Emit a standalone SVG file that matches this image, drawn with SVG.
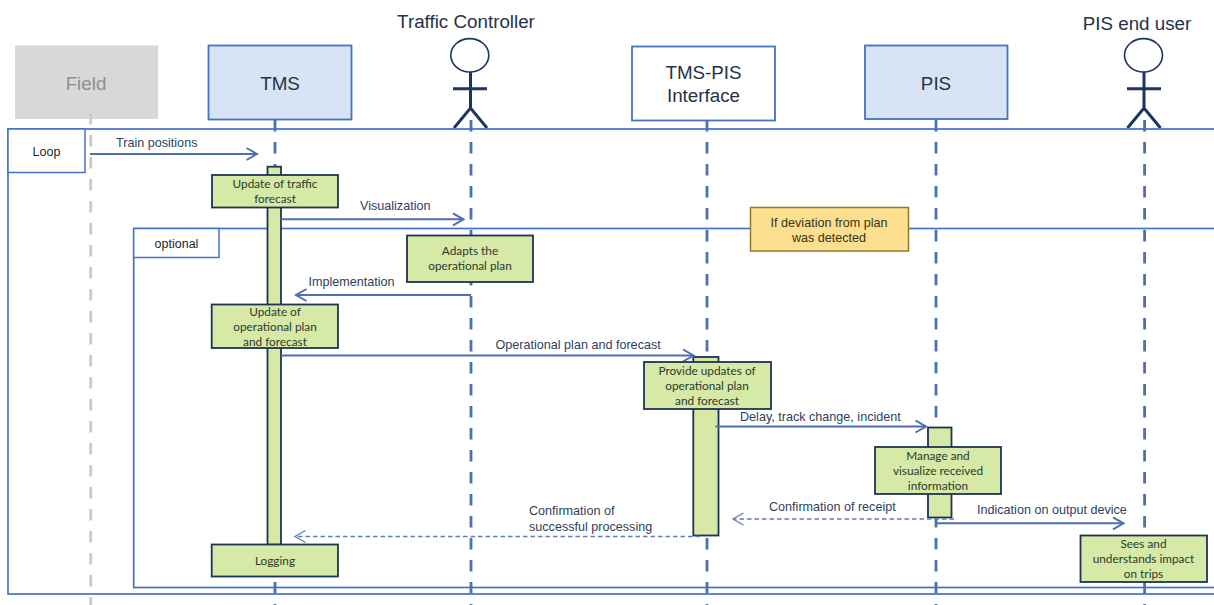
<svg xmlns="http://www.w3.org/2000/svg" width="1214" height="605" viewBox="0 0 1214 605">
<style>
text{font-family:"Liberation Sans",Arial,sans-serif;fill:#2b3a55;text-anchor:middle}
.title{font-size:18.800px;fill:#243247}
.msg{font-size:12.600px;text-anchor:start;fill:#2f3e5e}
.tab{font-size:12.500px;fill:#1f1f1f}
.act{font-size:11.800px;font-family:Lato,"Liberation Sans",sans-serif;fill:#2c3a2c}
.note{font-size:12.600px;fill:#3a3115}
.node{stroke:#4472c4;stroke-width:1.800}
.blue{fill:#d8e3f6}
.green{fill:#d6e9a6;stroke:#1f3354;stroke-width:1.800}
.frame{fill:none;stroke:#4472c4;stroke-width:1.700}
.tabbox{fill:#fff;stroke:#4472c4;stroke-width:1.500}
.life{fill:none;stroke:#4e6fb0;stroke-width:2.800;stroke-dasharray:11.500 10.500}
.actor{fill:none;stroke:#1d3561;stroke-width:3}
.msgline{fill:none;stroke:#4e6fb0;stroke-width:2;marker-end:url(#open)}
.ret{fill:none;stroke:#5f7dba;stroke-width:1.300;stroke-dasharray:4.500 3;marker-end:url(#openthin)}
</style>
<defs>
<marker id="open" markerUnits="userSpaceOnUse" markerWidth="14" markerHeight="16" refX="12" refY="7" orient="auto"><path d="M1.500 1 L12 7 L1.500 13" fill="none" stroke="#4e6fb0" stroke-width="2"/></marker>
<marker id="openthin" markerUnits="userSpaceOnUse" markerWidth="14" markerHeight="16" refX="12" refY="7" orient="auto"><path d="M1.500 1 L12 7 L1.500 13" fill="none" stroke="#5f7dba" stroke-width="1.300"/></marker>
</defs>

<g id="node-field"><rect x="15" y="45.500" width="143" height="73.500" fill="#d8d8d8"/><text class="title" x="86" y="90" style="fill:#8f8f8f">Field</text></g>
<g id="node-tms"><rect class="node blue" x="208.500" y="45.500" width="143" height="74"/><text class="title" x="280" y="90">TMS</text></g>
<g id="node-interface"><rect class="node" fill="#fff" x="632" y="46.500" width="143" height="74"/><text class="title" x="703.500" y="79">TMS-PIS</text><text class="title" x="703.500" y="101.500">Interface</text></g>
<g id="node-pis"><rect class="node blue" x="865" y="45.500" width="142.500" height="73.500"/><text class="title" x="936" y="90">PIS</text></g>
<g id="actor-controller"><text class="title" x="466" y="28">Traffic Controller</text><ellipse cx="469.800" cy="55.300" rx="19" ry="16.700" fill="#fff" stroke="#1d3561" stroke-width="1.600"/><path class="actor" d="M470.500 72V108M453 88.800H487M454 128L470.500 108L487 128"/></g>
<g id="actor-user"><text class="title" x="1137" y="29.500">PIS end user</text><ellipse cx="1143.500" cy="55.300" rx="19" ry="16.700" fill="#fff" stroke="#1d3561" stroke-width="1.600"/><path class="actor" d="M1144 72V108M1127 88.800H1161M1127.500 128L1144 108L1160.500 128"/></g>

<g id="lifelines">
<path class="life" style="stroke:#c9c9c9" d="M90.700 113V605"/>
<path class="life" d="M275 120V605"/>
<path class="life" d="M471 120V605"/>
<path class="life" d="M707 120V605"/>
<path class="life" d="M936 120V605"/>
<path class="life" d="M1144.600 120V605"/>
</g>

<g id="frames">
<rect class="frame" x="8" y="129" width="1230" height="465"/>
<rect class="frame" x="133.700" y="228.500" width="1100" height="359"/>
</g>
<g id="frame-loop"><rect class="tabbox" x="8" y="129" width="77" height="43.500"/><text class="tab" x="46.500" y="156">Loop</text></g>
<g id="frame-optional"><rect class="tabbox" x="133.700" y="228.500" width="85.300" height="29"/><text class="tab" x="176.500" y="247.500">optional</text></g>

<g id="activations">
<rect class="green" x="267.500" y="166.700" width="13.500" height="378"/>
<rect class="green" x="693.300" y="357" width="25.200" height="178.500"/>
<rect class="green" x="928" y="427.500" width="23.500" height="90"/>
</g>

<g id="connectors">
<path class="msgline" d="M90 154H257"/>
<path class="msgline" d="M281 219.300H463.500"/>
<path class="msgline" d="M471 295H296"/>
<path class="msgline" d="M281 355.500H693.500"/>
<path class="msgline" d="M715.500 426.500H926"/>
<path class="msgline" d="M936 523.300H1123.500"/>
<path class="ret" d="M954 519H733"/>
<path class="ret" d="M700 536.500H295"/>
<text class="msg" x="116" y="147">Train positions</text>
<text class="msg" x="360" y="210">Visualization</text>
<text class="msg" x="308.500" y="286">Implementation</text>
<text class="msg" x="495.500" y="349">Operational plan and forecast</text>
<text class="msg" x="740" y="421">Delay, track change, incident</text>
<text class="msg" x="769" y="511">Confirmation of receipt</text>
<text class="msg" x="977" y="514">Indication on output device</text>
<text class="msg" x="529" y="515">Confirmation of</text>
<text class="msg" x="529" y="530.500">successful processing</text>
</g>

<g id="step-traffic"><rect class="green" x="212" y="175" width="126" height="32.500"/><text class="act" x="275" y="188">Update of traffic</text><text class="act" x="275" y="203">forecast</text></g>
<g id="step-adapts"><rect class="green" x="407" y="235.500" width="126" height="46.500"/><text class="act" x="470" y="255">Adapts the</text><text class="act" x="470" y="270">operational plan</text></g>
<g id="step-update"><rect class="green" x="211.700" y="304.500" width="126.300" height="43.500"/><text class="act" x="275" y="316">Update of</text><text class="act" x="275" y="331">operational plan</text><text class="act" x="275" y="346">and forecast</text></g>
<g id="step-logging"><rect class="green" x="211.700" y="544.500" width="126.300" height="32"/><text class="act" x="275" y="565">Logging</text></g>
<g id="step-provide"><rect class="green" x="644" y="362" width="127" height="47"/><text class="act" x="707" y="375">Provide updates of</text><text class="act" x="707" y="390">operational plan</text><text class="act" x="707" y="405">and forecast</text></g>
<g id="step-manage"><rect class="green" x="875" y="447" width="126" height="47"/><text class="act" x="938" y="460">Manage and</text><text class="act" x="938" y="475">visualize received</text><text class="act" x="938" y="490">information</text></g>
<g id="step-sees"><rect class="green" x="1080.500" y="535.500" width="126.500" height="46.500"/><text class="act" x="1143.500" y="548">Sees and</text><text class="act" x="1143.500" y="563">understands impact</text><text class="act" x="1143.500" y="578">on trips</text></g>
<g id="note-deviation"><rect x="750.500" y="207.500" width="158" height="43.500" fill="#fde08f" stroke="#8f7a2c" stroke-width="1.500"/><text class="note" x="829" y="226.500">If deviation from plan</text><text class="note" x="829" y="241.500">was detected</text></g>
</svg>
